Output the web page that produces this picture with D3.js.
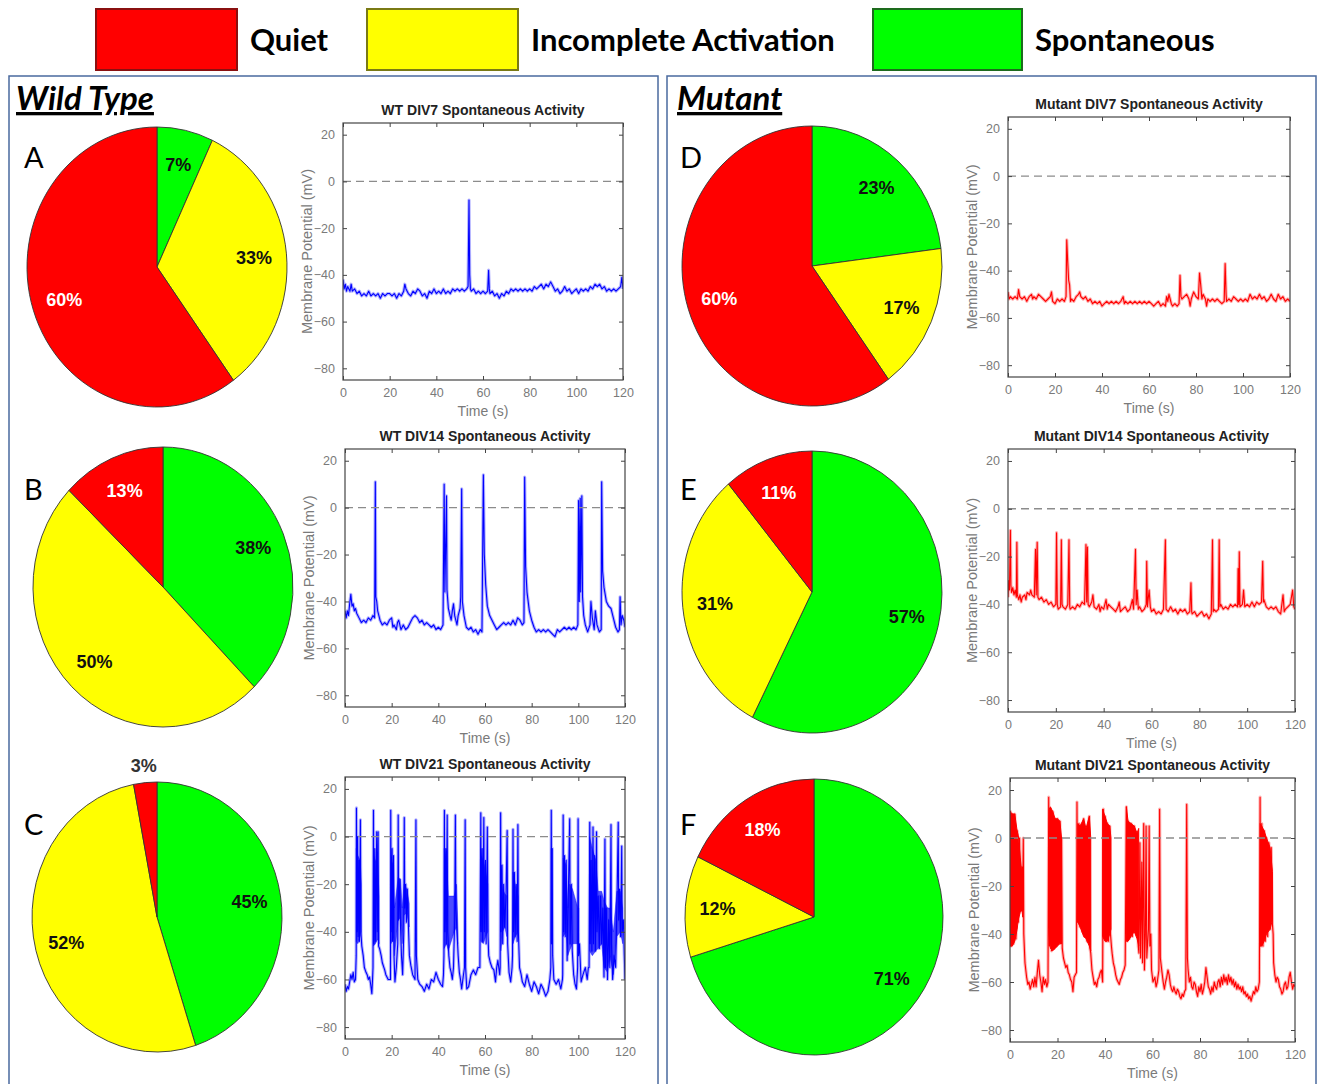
<!DOCTYPE html>
<html>
<head>
<meta charset="utf-8">
<script src="https://cdn.jsdelivr.net/npm/d3@7"></script>
<style>
  body { margin: 0; background: #fff; }
  text { font-family: "Liberation Sans", Arial, sans-serif; }
</style>
</head>
<body>
<svg id="fig" width="1325" height="1084"></svg>
<script>
// slice order, clockwise from 12 o'clock
var sliceCategories = ["Spontaneous", "Incomplete Activation", "Quiet"];
var legendCategories = ["Quiet", "Incomplete Activation", "Spontaneous"];

var pieWT7 = [7, 33, 60];
var pieWT14 = [38, 50, 13];
var pieWT21 = [45, 52, 3];
var pieMut7 = [23, 17, 60];
var pieMut14 = [57, 31, 11];
var pieMut21 = [71, 12, 18];

var panelLetters = ["A", "B", "C", "D", "E", "F"];
var groupTitles = ["Wild Type", "Mutant"];
var traceTitles = ["WT DIV7 Spontaneous Activity", "WT DIV14 Spontaneous Activity", "WT DIV21 Spontaneous Activity",
    "Mutant DIV7 Spontaneous Activity", "Mutant DIV14 Spontaneous Activity", "Mutant DIV21 Spontaneous Activity"];
var xTicks = [0, 20, 40, 60, 80, 100, 120];
var yTicks = [-80, -60, -40, -20, 0, 20];

// membrane potential traces, [time (s), mV]
var traceWT7 = [[0,-42],[0.5,-46],[1,-44],[1.5,-47],[2,-45],[3,-47],[3.5,-44],[4,-47],[5,-46],[6,-48],[7,-47],[8,-49],[9,-48],[10,-49],[11,-47],[12,-49],[13,-48],[14,-49],[15,-48],[16,-50],[17,-48],[18,-49],[19,-48],[20,-48],[21,-49],[22,-48],[23,-50],[24,-48],[25,-49],[26,-47],[26.5,-44],[27,-46],[28,-48],[29,-49],[30,-47],[31,-48],[32,-46],[33,-47],[34,-49],[35,-48],[36,-50],[37,-47],[38,-48],[39,-46],[40,-48],[41,-47],[42,-48],[43,-46],[44,-48],[45,-47],[46,-48],[47,-46],[48,-47],[49,-46],[50,-47],[51,-46],[52,-47],[53,-46],[53.6,-45],[54,-8],[54.3,-40],[54.6,-46],[55,-47],[56,-46],[57,-48],[58,-47],[59,-48],[60,-47],[61,-48],[62,-47],[62.4,-38],[62.7,-46],[63,-48],[64,-47],[65,-49],[66,-48],[67,-50],[68,-48],[69,-49],[70,-47],[71,-48],[72,-46],[73,-47],[74,-46],[75,-47],[76,-46],[77,-47],[78,-46],[79,-47],[80,-46],[81,-47],[82,-45],[83,-46],[84,-45],[85,-44],[86,-46],[87,-44],[88,-45],[89,-43],[90,-45],[91,-47],[92,-46],[93,-48],[94,-47],[95,-45],[96,-47],[97,-46],[98,-48],[99,-47],[100,-46],[101,-48],[102,-46],[103,-47],[104,-46],[105,-47],[106,-45],[107,-46],[108,-44],[109,-45],[110,-44],[111,-46],[112,-45],[113,-47],[114,-46],[115,-47],[116,-46],[117,-47],[118,-46],[119,-45],[119.5,-41],[120,-46]];

var traceWT14 = [[0,-44],[0.5,-47],[1,-44],[1.5,-46],[2,-41],[2.5,-37],[3,-42],[3.5,-41],[4,-44],[4.5,-43],[5,-45],[6,-47],[7,-49],[8,-48],[9,-49],[10,-47],[11,-48],[12,-46],[12.7,-47],[13,11],[13.2,-38],[13.6,-40],[14,-44],[15,-48],[16,-50],[17,-49],[18,-50],[19,-48],[20,-47],[20.5,-51],[21,-50],[22,-52],[22.5,-49],[23,-48],[24,-52],[25,-50],[26,-52],[27,-51],[28,-49],[29,-47],[30,-46],[31,-47],[32,-49],[33,-48],[34,-50],[35,-49],[36,-50],[37,-51],[38,-50],[39,-52],[40,-51],[41,-52],[42,-50],[42.5,10],[42.8,-36],[43.5,5],[43.7,-35],[44.3,-43],[45,-46],[45.5,-48],[46,-44],[46.5,-41],[47,-46],[48,-50],[48.5,-46],[49.3,-43],[49.6,-38],[50,8],[50.3,-40],[51,-46],[52,-51],[53,-52],[54,-51],[55,-53],[56,-52],[57,-54],[58,-52],[58.7,-53],[59.3,14],[59.7,-20],[60.3,-33],[61,-42],[62,-46],[63,-48],[64,-50],[65,-52],[66,-51],[67,-50],[68,-49],[69,-50],[70,-49],[71,-50],[72,-48],[73,-50],[74,-47],[75,-48],[76,-50],[76.7,-49],[77,13],[77.4,-25],[78,-36],[79,-44],[80,-48],[81,-51],[82,-53],[83,-52],[84,-53],[85,-52],[86,-53],[87,-52],[88,-53],[89,-54],[90,-55],[91,-52],[92,-53],[93,-52],[94,-51],[95,-52],[96,-51],[97,-52],[98,-51],[99,-52],[99.8,-50],[100.1,3],[100.4,-40],[100.8,4],[101,-36],[101.5,5],[101.8,-38],[102.3,-46],[103,-50],[104,-53],[105,-50],[105.4,-40],[106,-47],[106.8,-52],[107.3,-44],[108,-50],[109,-53],[109.8,-52],[110,11],[110.4,-27],[111,-34],[112,-40],[113,-42],[114,-43],[115,-47],[116,-51],[117,-53],[117.6,-52],[117.9,-38],[118.3,-50],[118.8,-46],[119.5,-48],[120,-51]];

var traceWT21 = [[0,-62],[0.5,-65],[1,-63],[1.5,-64],[2,-61],[2.5,-58],[3,-60],[3.5,-57],[4,-61],[4.5,-60],[4.8,-50],[4.9,12],[5.1,-40],[5.4,0],[5.6,-42],[6,-10],[6.2,-44],[6.6,7],[6.8,-40],[7.2,-46],[7.8,-50],[8.3,-55],[9,-57],[9.5,-58],[10,-60],[10.5,-59],[11,-62],[11.5,-66],[11.8,-60],
    [12,-55],[12.2,11],[12.4,-45],[12.8,-5],[13,-44],[13.6,2],[13.8,-40],[14.2,2],[14.4,-46],[14.8,-47],[15.5,-50],[16,-53],[17,-56],[17.5,-58],[18.5,-60],[19.5,-60],[19.6,11],[19.8,-40],[20.2,-5],[20.4,-44],[20.8,-8],[21,-50],[21.4,-61],[22,-55],[22.6,-45],[22.8,9],[23,-35],[23.5,-18],[23.8,-38],[24.2,-50],[24.7,-58],[25.2,-40],[25.4,8],[25.6,-30],[26,-20],[26.3,-36],[26.7,-22],[27.2,-38],[27.6,-50],[28.2,-54],[29,-58],[30,-60],[30.4,7],[30.6,-50],[31.2,-60],[32,-62],[33,-63],[34,-65],[35,-62],[36,-64],[37,-60],[38,-61],[39,-57],[40,-60],[41,-62],[41.8,-63],[42.2,-58],
    [42.4,-50],[42.6,11],[42.8,-40],[43.2,-5],[43.4,-45],[43.8,9],[44,-40],[44.5,-50],[45,-55],[45.5,-57],[46,-60],[46.5,-55],[47,-35],[47.3,9],[47.5,-30],[48,-40],[48.5,-50],[49,-57],[49.5,-60],[50,-64],[50.5,-60],[51.2,-55],[51.5,7],[51.7,-55],[52.2,-64],[53,-63],[54,-58],[55,-56],[56,-58],[57,-55],[57.8,-55],[58.2,10],[58.4,-40],[58.8,-5],[59,-44],[59.5,8],[59.7,-40],[60.2,-10],[60.5,-45],[61,4],[61.3,-42],[61.6,-50],[62.3,-53],[63,-55],[63.8,-56],[64.5,-61],[65,-55],[65.5,-52],[66.3,-58],
    [66.5,-55],[66.7,10],[66.9,-40],[67.3,-12],[67.6,-45],[68,-20],[68.4,-38],[69,-25],[69.5,2.5],[69.7,-45],[70.3,-57],[71,-61],[71.6,-55],[71.8,-50],[72,3],[72.2,-40],[72.6,-15],[72.9,-42],[73.4,-20],[73.8,-44],[74.1,5],[74.3,-40],[74.8,-55],[75.5,-58],[76,-61],[77,-63],[78,-58],[79,-62],[80,-65],[81,-61],[82,-63],[83,-66],[84,-62],[85,-64],[86,-67],[87,-65],[87.8,-60],[88.2,-55],[88.4,11],[88.6,-45],[88.8,-5],[89,-50],[89.5,-60],[90.5,-62],[91.5,-60],[92.5,-64],[93.2,-60],
    [93.3,-58],[93.5,9],[93.7,-40],[94.1,-8],[94.4,-42],[94.8,-10],[95.2,-52],[95.8,-20],[96.3,7.5],[96.5,-45],[97,-20],[97.4,-48],[98,-58],[98.6,-62],[99.2,-64],[99.7,-55],[99.9,7.5],[100.1,-50],[100.5,-45],[101.2,-61],[102,-58],[103,-55],[103.8,-60],[104.3,-55],
    [104.6,-55],[104.9,6],[105.1,-45],[105.5,-10],[105.8,-48],[106.3,4],[106.5,-45],[107,-8],[107.3,-48],[107.8,2],[108,-40],[108.5,-25],[109,-47],[109.5,-25],[110,-45],[110.5,-30],[111,-59],[111.4,-1],[111.6,-55],[112,-30],[112.5,-60],[113,-35],[113.5,-55],[114,5],[114.2,-45],[114.7,-60],[115.3,-50],[116,-55],[116.6,-25],[117.1,6],[117.3,-35],[117.7,-22],[118.1,-42],[118.6,-4],[118.8,-40],[119.3,-35],[119.7,-50],[120,-60]];

// dense spiking shown as an envelope, [time (s), low mV, high mV]
var bandsWT21 = [
    [[4.8,-44,-5],[5.5,-45,-8],[6.5,-42,-10],[7,-40,-20]],
    [[12.2,-46,-8],[13,-45,-10],[14,-43,-12],[14.6,-45,-25]],
    [[19.7,-45,-10],[20.8,-42,-12],[21.2,-50,-30],[22.8,-35,-17],[23.8,-34,-18],[24.5,-45,-30],[25.3,-33,-20],[26.5,-32,-22],[27.5,-38,-28]],
    [[42.5,-47,-5],[43.5,-45,-10],[44.3,-48,-25],[46.8,-40,-25],[47.8,-38,-20],[48.3,-45,-35]],
    [[58.2,-44,-8],[59.3,-45,-10],[60.3,-42,-15],[61.2,-40,-20]],
    [[66.8,-48,-15],[67.5,-40,-22],[68.5,-38,-24],[69.3,-42,-25]],
    [[72,-45,-15],[73,-42,-20],[74.2,-40,-25]],
    [[88.3,-45,-5],[88.8,-45,-5]],
    [[93.5,-42,-9],[94.8,-40,-12],[95.5,-50,-30],[96.2,-48,-20],[97.5,-45,-22],[99.8,-45,-30],[100.2,-45,-30]],
    [[104.8,-48,0],[106,-50,-5],[107.5,-48,-10],[108.5,-47,-23],[110,-45,-23],[111,-55,-27],[112.5,-57,-30],[113.5,-50,-30],[115,-58,-40],[116.5,-42,-23],[118,-40,-23],[119,-45,-30]]
];

var traceMut7 = [[0,-49],[0.5,-52],[1,-51],[2,-52],[3,-51],[4,-52],[4.5,-48],[5,-51],[6,-52],[7,-51],[8,-53],[9,-51],[10,-50],[10.5,-52],[11,-51],[12,-52],[13,-50],[14,-51],[15,-52],[16,-53],[17,-52],[18,-51],[18.5,-49],[19,-53],[20,-54],[21,-52],[22,-53],[23,-52],[24,-53],[24.7,-51],[25,-27],[25.4,-36],[25.8,-44],[26.2,-46],[26.6,-53],[27,-52],[28,-53],[29,-51],[30,-50],[30.5,-49],[31,-51],[32,-52],[33,-51],[34,-53],[35,-52],[36,-54],[37,-53],[38,-54],[39,-53],[40,-55],[41,-54],[42,-53],[43,-54],[44,-53],[45,-54],[46,-53],[47,-54],[48,-53],[49,-51],[49.5,-54],[50,-53],[51,-54],[52,-53],[53,-54],[54,-53],[55,-54],[56,-53],[57,-54],[58,-53],[59,-54],[60,-53],[61,-54],[62,-55],[63,-54],[64,-53],[65,-55],[66,-54],[67,-55],[67.5,-51],[68,-53],[68.5,-50],[69,-52],[69.5,-54],[70,-55],[71,-54],[72,-55],[72.8,-54],[73.2,-42],[73.6,-51],[74,-52],[75,-51],[76,-50],[77,-52],[77.5,-55],[78,-52],[79,-49],[80,-51],[81,-52],[81.5,-41],[82,-46],[82.5,-52],[83,-50],[84,-52],[84.5,-55],[85,-52],[86,-53],[87,-52],[88,-53],[89,-52],[90,-53],[91,-54],[92,-53],[92.4,-37],[92.8,-50],[93,-53],[94,-52],[95,-53],[96,-51],[97,-52],[98,-53],[99,-52],[100,-53],[101,-52],[102,-53],[103,-50],[104,-52],[105,-51],[106,-52],[107,-50],[108,-52],[109,-51],[110,-53],[111,-52],[112,-50],[113,-52],[114,-53],[115,-50],[116,-52],[117,-51],[118,-53],[119,-52],[120,-53]];

var traceMut14 = [[0,-37],[0.3,-30],[0.6,-34],[1,-9],[1.2,-32],[1.5,-35],[2,-33],[2.5,-36],[3,-34],[3.5,-37],[3.7,-14],[3.9,-36],[4.5,-38],[5,-36],[5.5,-39],[6,-37],[7,-36],[7.5,-38],[8,-35],[9,-36],[9.5,-34],[10,-36],[11,-37],[11.5,-17],[11.8,-36],[12.2,-14],[12.5,-37],[13,-38],[14,-37],[15,-39],[16,-38],[17,-40],[18,-39],[19,-41],[20,-40],[20.3,-10],[20.6,-40],[21,-42],[22,-41],[22.3,-13],[22.6,-40],[23,-41],[24,-42],[25,-40],[25.5,-13],[25.8,-41],[26,-42],[27,-41],[28,-42],[29,-40],[30,-41],[31,-39],[32,-40],[32.6,-15],[32.9,-39],[33.2,-16],[33.5,-40],[34,-41],[35,-39],[35.5,-36],[36,-41],[37,-42],[38,-40],[38.5,-43],[39,-41],[40,-42],[41,-38],[41.5,-42],[42,-40],[43,-41],[44,-42],[45,-43],[46,-41],[46.5,-39],[47,-43],[48,-42],[49,-41],[50,-43],[51,-42],[52,-38],[52.5,-42],[53.3,-17],[53.6,-40],[54,-34],[54.5,-42],[55,-41],[56,-43],[57,-42],[57.8,-40],[58,-22],[58.3,-41],[59,-34],[59.5,-41],[60,-43],[61,-42],[62,-44],[63,-43],[64,-44],[65,-42],[65.8,-13],[66.1,-42],[67,-43],[68,-41],[69,-43],[70,-42],[71,-44],[72,-42],[73,-43],[74,-42],[75,-44],[76,-43],[76.5,-31],[76.8,-43],[77,-44],[78,-43],[79,-45],[80,-44],[81,-43],[82,-45],[83,-44],[84,-46],[85,-44],[85.5,-13],[85.8,-43],[86,-42],[87,-43],[88,-42],[88.3,-13],[88.6,-41],[89,-40],[90,-42],[91,-41],[92,-42],[93,-40],[94,-41],[95,-40],[96,-41],[96.2,-25],[96.5,-40],[96.7,-18],[97,-41],[98,-40],[98.5,-34],[99,-41],[100,-40],[101,-41],[102,-39],[103,-41],[104,-39],[105,-40],[106,-39],[106.5,-22],[106.8,-39],[107,-38],[108,-41],[109,-42],[110,-41],[111,-42],[112,-41],[113,-43],[114,-44],[115,-36],[115.5,-43],[116,-42],[117,-41],[118,-40],[119,-34],[119.5,-41],[120,-42]];

var traceMut21 = [[0,-40],[0.2,11],[0.5,-45],[1,10],[1.5,-44],[2,10],[2.5,-42],[3,3],[3.5,-35],[4,0],[4.5,-30],[5,-12],[5.3,-30],[5.6,0],[5.8,-40],[6.3,-52],[7,-58],[7.5,-61],[8,-60],[8.5,-63],[9,-61],[9.5,-59],[10,-62],[10.5,-58],[11,-62],[11.5,-56],[12,-51],[12.5,-57],[13,-60],[13.5,-64],[14,-58],[14.5,-61],[15,-59],[15.5,-62],[16,-60],
    [16.3,17],[16.6,-45],[17,12],[17.5,-47],[18,11],[18.5,-46],[19,8],[19.5,-45],[20,8],[20.5,-44],[21,7],[21.5,-44],[21.7,0],[22,-46],[22.5,-50],[23,-52],[23.5,-54],[24,-53],[24.5,-56],[25,-57],[25.5,-59],[26,-60],[26.5,-64],[27,-58],[27.5,-57],[28,-56],
    [28.2,15],[28.5,-35],[29,6],[29.5,-37],[30,5],[30.5,-39],[31,8],[31.5,-41],[32,4],[32.5,-43],[33,5],[33.4,9],[33.7,-46],[34,-48],[34.5,-55],[35,-58],[35.5,-61],[36,-60],[36.5,-62],[37,-59],[37.5,-58],[38,-56],[38.5,-55],[39,-60],
    [39.3,12],[39.6,-41],[40,9],[40.5,-43],[41,6],[41.5,-43],[42,5],[42.3,-40],[42.7,-45],[43,-48],[43.5,-52],[44,-54],[44.5,-57],[45,-59],[45.5,-60],[46,-61],[46.5,-59],[47,-58],[47.5,-56],[48,-55],[48.5,-53],
    [49,13],[49.3,-43],[49.7,7],[50.2,-42],[51,6],[51.5,-41],[52.3,5],[52.8,-39],[53.5,2],[54,-45],[54.3,-48],[54.7,-2],[55,-50],[55.5,-10],[55.8,-52],[56.3,6],[56.6,-55],[57,-40],[57.3,5],[57.6,-50],[58.3,-38],[58.6,5],[58.9,-45],[59.3,-40],[59.6,-55],[60.2,-60],[61,-58],[61.5,-62],[62,-60],[62.7,-55],[63,12],[63.3,-50],[64,-56],[64.5,-60],[65,-63],[65.5,-60],[66,-58],[66.5,-55],[67,-57],[67.5,-61],[68,-63],[68.5,-64],[69,-62],[69.5,-64],[70,-65],[70.5,-63],[71,-64],[71.5,-66],[72,-67],[72.5,-65],[73,-66],[73.5,-64],[74,-63],[74.4,14],[74.7,-50],[75,-55],[75.5,-60],[76,-58],[76.5,-62],[77,-63],[77.5,-60],[78,-61],[78.5,-64],[79,-66],[79.5,-62],[80,-64],[80.5,-61],[81,-65],[81.5,-63],[82,-60],[82.5,-54],[83,-58],[83.5,-62],[84,-63],[84.5,-65],[85,-62],[85.5,-64],[86,-60],[86.5,-62],[87,-63],[87.5,-60],[88,-59],[88.5,-62],[89,-58],[89.5,-61],[90,-57],[90.5,-60],[91,-58],[91.5,-61],[92,-57],[92.5,-60],[93,-58],[93.5,-61],[94,-59],[94.5,-62],[95,-60],[95.5,-63],[96,-61],[96.5,-63],[97,-62],[97.5,-64],[98,-62],[98.5,-65],[99,-64],[99.5,-66],[100,-65],[100.5,-67],[101,-66],[101.5,-68],[102,-66],[102.5,-64],[103,-65],[103.5,-62],[104,-64],[104.5,-63],[105,-60],
    [105.3,17],[105.6,-45],[106,6],[106.5,-45],[107,3],[107.5,-43],[108,0],[108.5,-41],[109,-2],[109.5,-38],[110,-4],[110.5,-36],[110.8,-40],[111,-52],[111.5,-57],[112,-60],[112.5,-58],[113,-59],[113.5,-62],[114,-63],[114.5,-65],[115,-64],[115.5,-61],[116,-60],[116.5,-63],[117,-62],[117.5,-58],[118,-56],[118.5,-60],[119,-63],[119.5,-61],[120,-62]];

var bandsMut21 = [
    [[0,-45,11],[1,-45,10],[2,-43,10],[3,-38,3],[3.5,-34,1],[4.3,-31,-8],[5,-30,-15],[5.4,-33,-20]],
    [[16.5,-40,12],[17,-46,13],[18,-47,11],[19,-46,8],[20,-45,8],[21,-44,7],[21.7,-44,0]],
    [[28.5,-35,6],[29.5,-37,5],[31,-41,8],[32,-42,4],[33.4,-45,9],[34,-47,0]],
    [[39,-41,12],[40,-43,9],[41,-43,6],[42,-40,5],[42.5,-38,0]],
    [[49,-43,13],[49.7,-43,7],[51,-41,6],[52.3,-39,5],[53.5,-42,2],[54.2,-45,4]],
    [[105.3,-45,6],[106,-45,5],[107,-43,3],[108,-40,0],[109.5,-38,-4],[110.5,-34,-14]]
];

var pies = [pieWT7, pieWT14, pieWT21, pieMut7, pieMut14, pieMut21];
var traces = [traceWT7, traceWT14, traceWT21, traceMut7, traceMut14, traceMut21];
var bands = [[], [], bandsWT21, [], [], bandsMut21];

// ---------- layout ----------
var legendLayout = [{x: 96, w: 141, tx: 250}, {x: 367, w: 151, tx: 531}, {x: 873, w: 149, tx: 1035}];
var frameLayout = [{x: 9, y: 76, tx: 16}, {x: 667, y: 76, tx: 677}];
var pieLayout = [
    {cx: 157, cy: 267, rx: 130, ry: 140}, {cx: 163, cy: 587, rx: 130, ry: 140}, {cx: 157, cy: 917, rx: 125, ry: 135},
    {cx: 812, cy: 266, rx: 130, ry: 140}, {cx: 812, cy: 592, rx: 130, ry: 141}, {cx: 814, cy: 917, rx: 129, ry: 138}
];
var letterLayout = [{x: 24, y: 168}, {x: 24, y: 500}, {x: 24, y: 835}, {x: 680, y: 168}, {x: 680, y: 500}, {x: 680, y: 835}];
var boxLayout = [
    {x: 343, y: 123, w: 280, h: 257}, {x: 345, y: 449, w: 280, h: 258}, {x: 345, y: 777, w: 280, h: 262},
    {x: 1008, y: 117, w: 282, h: 260}, {x: 1008, y: 449, w: 287, h: 263}, {x: 1010, y: 778, w: 285, h: 264}
];

var svg = d3.select("#fig");

var sliceColor = d3.scaleOrdinal().domain(sliceCategories).range(["#00ff00", "#ffff00", "#ff0000"]);
var legendEdge = d3.scaleOrdinal().domain(sliceCategories).range(["#1d6b1d", "#7a7a14", "#8a1010"]);

// legend
var legend = svg.append("g").selectAll("g")
    .data(legendCategories)
    .enter().append("g");
legend.append("rect")
    .attr("x", function (d, i) { return legendLayout[i].x; })
    .attr("y", 9)
    .attr("width", function (d, i) { return legendLayout[i].w; })
    .attr("height", 61)
    .attr("fill", function (d) { return sliceColor(d); })
    .attr("stroke", function (d) { return legendEdge(d); })
    .attr("stroke-width", 2);
legend.append("text")
    .attr("x", function (d, i) { return legendLayout[i].tx; })
    .attr("y", 51)
    .style("font-family", "Lato, 'Open Sans', sans-serif")
    .style("font-weight", "bold")
    .style("font-size", "31px")
    .text(function (d) { return d; });

// group frames
frameLayout.forEach(function (f, i) {
    svg.append("rect")
        .attr("x", f.x).attr("y", f.y)
        .attr("width", 649).attr("height", 1020)
        .attr("fill", "none")
        .attr("stroke", "#4a6a9e")
        .attr("stroke-width", 1.5);
    svg.append("text")
        .attr("x", f.tx).attr("y", 110)
        .style("font-family", "Lato, 'Open Sans', sans-serif")
        .style("font-weight", "bold")
        .style("font-style", "italic")
        .style("font-size", "33px")
        .style("text-decoration", "underline")
        .text(groupTitles[i]);
});

// pies
var pie = d3.pie().sort(null).value(function (d) { return d.value; });
var arc = d3.arc().innerRadius(0).outerRadius(100);
var labelArc = d3.arc().innerRadius(75).outerRadius(75);
var outerLabelArc = d3.arc().innerRadius(113).outerRadius(113);

pies.forEach(function (values, i) {
    var L = pieLayout[i];
    var slices = pie(values.map(function (v, k) { return {cat: sliceCategories[k], value: v}; }));

    svg.append("g")
        .attr("transform", "translate(" + L.cx + "," + L.cy + ") scale(" + (L.rx / 100) + "," + (L.ry / 100) + ")")
        .selectAll("path")
        .data(slices)
        .enter().append("path")
        .attr("d", arc)
        .attr("fill", function (d) { return sliceColor(d.data.cat); })
        .attr("stroke", "#333")
        .attr("stroke-width", 0.9)
        .attr("vector-effect", "non-scaling-stroke");

    svg.append("g").selectAll("text")
        .data(slices)
        .enter().append("text")
        .attr("x", function (d) {
            var c = (d.data.value < 5 ? outerLabelArc : labelArc).centroid(d);
            return L.cx + c[0] * L.rx / 100;
        })
        .attr("y", function (d) {
            var c = (d.data.value < 5 ? outerLabelArc : labelArc).centroid(d);
            return L.cy + c[1] * L.ry / 100;
        })
        .attr("dy", "0.36em")
        .attr("text-anchor", "middle")
        .style("font-weight", "bold")
        .style("font-size", "18px")
        .attr("fill", function (d) {
            if (d.data.value < 5) return "#333";
            return d.data.cat === "Quiet" ? "#fff" : "#111";
        })
        .text(function (d) { return d.data.value + "%"; });

    svg.append("text")
        .attr("x", letterLayout[i].x).attr("y", letterLayout[i].y)
        .style("font-family", "Lato, 'Open Sans', sans-serif")
        .style("font-size", "29px")
        .text(panelLetters[i]);
});

// traces
traces.forEach(function (trace, i) {
    var B = boxLayout[i];
    var color = i < 3 ? "#0000ff" : "#ff0000";
    var x = d3.scaleLinear().domain([0, 120]).range([B.x, B.x + B.w]);
    var y = d3.scaleLinear().domain([-85, 25]).range([B.y + B.h, B.y]);

    var clipId = "clip" + i;
    svg.append("clipPath").attr("id", clipId)
        .append("rect").attr("x", B.x).attr("y", B.y).attr("width", B.w).attr("height", B.h);

    var plot = svg.append("g").attr("clip-path", "url(#" + clipId + ")");

    var area = d3.area()
        .x(function (d) { return x(d[0]); })
        .y0(function (d) { return y(d[1]); })
        .y1(function (d) { return y(d[2]); });
    plot.selectAll("path.band")
        .data(bands[i])
        .enter().append("path")
        .attr("class", "band")
        .attr("d", area)
        .attr("fill", color)
        .attr("fill-opacity", i < 3 ? 0.7 : 1)
        .attr("stroke", color)
        .attr("stroke-opacity", i < 3 ? 0.4 : 1)
        .attr("stroke-width", 1);

    var line = d3.line()
        .x(function (d) { return x(d[0]); })
        .y(function (d) { return y(d[1]); });
    plot.append("path")
        .datum(trace)
        .attr("d", line)
        .attr("fill", "none")
        .attr("stroke", color)
        .attr("stroke-opacity", 0.3)
        .attr("stroke-width", 3.2)
        .attr("stroke-linejoin", "round");
    plot.append("path")
        .datum(trace)
        .attr("d", line)
        .attr("fill", "none")
        .attr("stroke", color)
        .attr("stroke-width", 1.1)
        .attr("stroke-linejoin", "round");

    // zero reference
    plot.append("line")
        .attr("x1", x(0)).attr("x2", x(120))
        .attr("y1", y(0)).attr("y2", y(0))
        .attr("stroke", "#8c8c8c")
        .attr("stroke-width", 1.3)
        .attr("stroke-dasharray", "8,5");

    // axes, ticks inside like MATLAB
    function styleAxis(g, showText) {
        g.select(".domain").remove();
        g.selectAll(".tick line").attr("stroke", "#444");
        g.selectAll(".tick text")
            .attr("fill", "#7a7a7a")
            .style("font-size", "12.5px")
            .style("font-family", "'Liberation Sans', Arial, sans-serif");
        if (!showText) g.selectAll(".tick text").remove();
    }
    svg.append("g").attr("transform", "translate(0," + (B.y + B.h) + ")")
        .call(d3.axisBottom(x).tickValues(xTicks).tickSize(-4).tickPadding(8))
        .call(styleAxis, true);
    svg.append("g").attr("transform", "translate(0," + B.y + ")")
        .call(d3.axisTop(x).tickValues(xTicks).tickSize(-4))
        .call(styleAxis, false);
    svg.append("g").attr("transform", "translate(" + B.x + ",0)")
        .call(d3.axisLeft(y).tickValues(yTicks).tickSize(-4).tickPadding(8))
        .call(styleAxis, true);
    svg.append("g").attr("transform", "translate(" + (B.x + B.w) + ",0)")
        .call(d3.axisRight(y).tickValues(yTicks).tickSize(-4))
        .call(styleAxis, false);

    svg.append("rect")
        .attr("x", B.x).attr("y", B.y)
        .attr("width", B.w).attr("height", B.h)
        .attr("fill", "none")
        .attr("stroke", "#444")
        .attr("stroke-width", 1.2);

    svg.append("text")
        .attr("x", B.x + B.w / 2).attr("y", B.y - 8)
        .attr("text-anchor", "middle")
        .style("font-weight", "bold")
        .style("font-size", "14px")
        .attr("fill", "#222")
        .text(traceTitles[i]);

    svg.append("text")
        .attr("x", B.x + B.w / 2).attr("y", B.y + B.h + 36)
        .attr("text-anchor", "middle")
        .style("font-size", "14px")
        .attr("fill", "#7a7a7a")
        .text("Time (s)");

    svg.append("text")
        .attr("transform", "translate(" + (B.x - 31) + "," + (B.y + B.h / 2) + ") rotate(-90)")
        .attr("text-anchor", "middle")
        .style("font-size", "14.5px")
        .attr("fill", "#7a7a7a")
        .text("Membrane Potential (mV)");
});
</script>
</body>
</html>
